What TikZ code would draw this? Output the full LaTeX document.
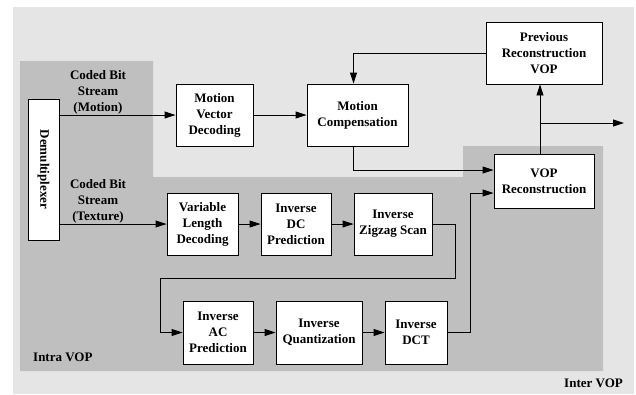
\documentclass[tikz,border=0pt]{standalone}
\usepackage{fontspec}
\setmainfont{Liberation Serif}
\usepackage{tikz}
\usetikzlibrary{calc,arrows.meta}

\begin{document}
\begin{tikzpicture}[x=1pt,y=-1pt,
  block/.style={draw, fill=white, line width=0.9pt, align=center, inner sep=0pt},
  arr/.style={-{Triangle[length=11pt,width=7pt]}, line width=0.9pt},
  lbl/.style={align=center, inner sep=0pt}]
\useasboundingbox (0,0) rectangle (636,394);
\definecolor{lightbg}{gray}{0.90}\definecolor{darkbg}{gray}{0.75}
\fontsize{13}{16}\selectfont\bfseries
% regions
\fill[lightbg] (13,7) rectangle (634,394);
\fill[darkbg] (20,61)--(153,61)--(153,177)--(463,177)--(463,146)--(603,146)--(603,371)--(20,371)--cycle;
\node[lbl, anchor=west] (intra) at (33,357) {Intra VOP};
\node[lbl, anchor=east] (inter) at (623,383) {Inter VOP};
% blocks
\node[block, minimum width=31pt, minimum height=141pt] (demux) at (43.5,169.5) {\rotatebox{-90}{Demultiplexer}};
\node[block, minimum width=77pt, minimum height=62pt] (mvd) at (214.5,115) {Motion\\Vector\\Decoding};
\node[block, minimum width=101pt, minimum height=62pt] (mc) at (357.5,115) {Motion\\Compensation};
\node[block, minimum width=116pt, minimum height=62pt] (prev) at (544,53) {Previous\\Reconstruction\\VOP};
\node[block, minimum width=100pt, minimum height=54pt] (vop) at (544,181) {VOP\\Reconstruction};
\node[block, minimum width=71pt, minimum height=62pt] (vld) at (202.5,224) {Variable\\Length\\Decoding};
\node[block, minimum width=70pt, minimum height=62pt] (idc) at (296,224) {Inverse\\DC\\Prediction};
\node[block, minimum width=78pt, minimum height=62pt] (izz) at (393,224) {Inverse\\Zigzag Scan};
\node[block, minimum width=70pt, minimum height=63pt] (iac) at (218,332.5) {Inverse\\AC\\Prediction};
\node[block, minimum width=86pt, minimum height=63pt] (iq) at (319,332.5) {Inverse\\Quantization};
\node[block, minimum width=62pt, minimum height=63pt] (idct) at (416,332.5) {Inverse\\DCT};
% stream labels
\node[lbl] (motlbl) at (98,92) {Coded Bit\\Stream\\(Motion)};
\node[lbl] (texlbl) at (98,201) {Coded Bit\\Stream\\(Texture)};
% connectors
\coordinate (out) at (624,123);
\coordinate (bendA) at (455,278); \coordinate (bendB) at (160,278);
\draw[arr] (demux.east |- mvd.west) -- (mvd.west);
\draw[arr] (mvd) -- (mc);
\draw[arr] (prev.west) -| ([xshift=-4pt]mc.north);
\draw[arr] ([xshift=-4pt]mc.south) |- ([yshift=11pt]vop.west);
\draw[arr] ([xshift=-4pt]vop.north) -- ([xshift=-4pt]prev.south);
\draw[arr] ([xshift=-4pt]vop.north |- out) -- (out);
\draw[arr] (demux.east |- vld.west) -- (vld.west);
\draw[arr] (vld) -- (idc);
\draw[arr] (idc) -- (izz);
\draw[arr] (izz.east) -| (bendA) -- (bendB) |- (iac.west);
\draw[arr] (iac) -- (iq);
\draw[arr] (iq) -- (idct);
\draw[arr] (idct.east) -- ++(23,0) |- ([yshift=-12pt]vop.west);
\end{tikzpicture}
\end{document}
